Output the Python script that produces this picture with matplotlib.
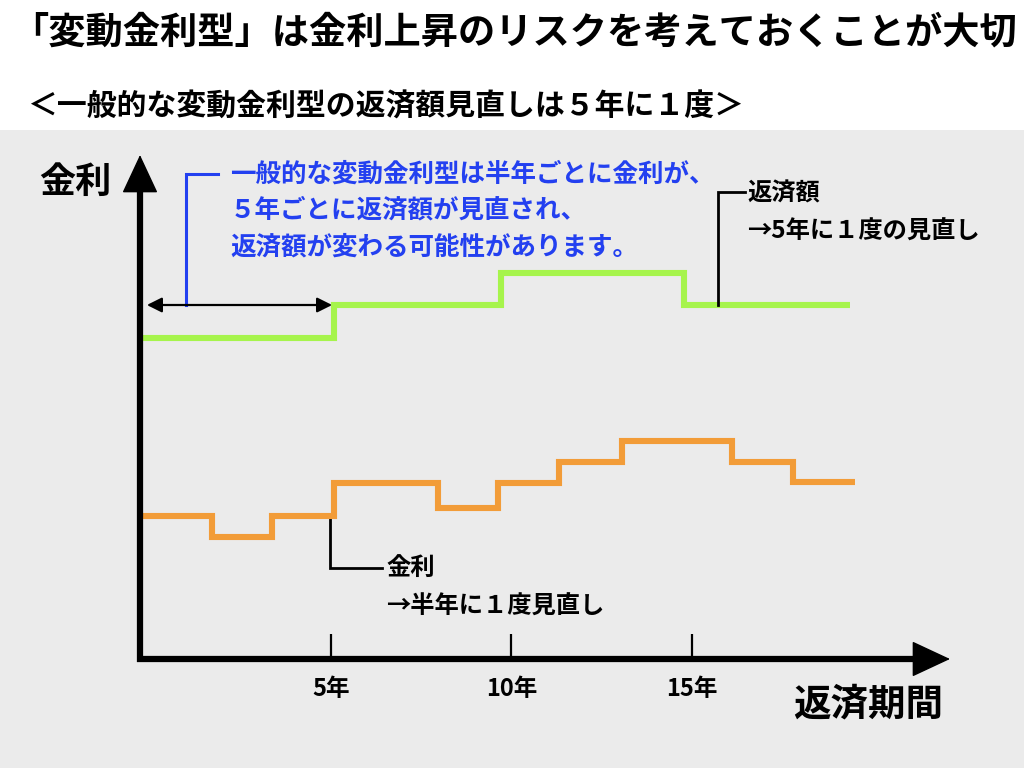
import matplotlib
matplotlib.use("Agg")
import matplotlib.pyplot as plt
from matplotlib.patches import Rectangle

plt.rcParams['font.family'] = ['Noto Sans CJK JP', 'DejaVu Sans']

# ---------------- data ----------------
# step breakpoints (years) and levels (arbitrary rate/payment level)
payment_x = [-0.21, 5.07, 9.70, 14.78, 19.38]
payment_y = [32.1, 35.4, 38.6, 35.4]

rate_x = [-0.21, 1.70, 3.36, 5.07, 7.96, 9.63, 11.32, 13.05, 16.10, 17.81, 19.52]
rate_y = [14.3, 12.2, 14.3, 17.6, 15.1, 17.6, 19.7, 21.8, 19.7, 17.7]

tick_years = [5, 10, 15]
tick_labels = ['5年', '10年', '15年']

title = '「変動金利型」は金利上昇のリスクを考えておくことが大切'
subtitle = '＜一般的な変動金利型の返済額見直しは５年に１度＞'
blue_lines = ['一般的な変動金利型は半年ごとに金利が、',
              '５年ごとに返済額が見直され、',
              '返済額が変わる可能性があります。']
payment_label = ['返済額', '→5年に１度の見直し']
rate_label = ['金利', '→半年に１度見直し']

GREEN = '#a6f44c'
ORANGE = '#f29c38'
BLUE = '#2340f0'
BG = '#ebebeb'

W, H = 1024, 768
fig = plt.figure(figsize=(W / 100, H / 100), dpi=100)
fig.patch.set_facecolor('white')
fig.patches.append(Rectangle((0, 0), 1, (H - 130) / H, transform=fig.transFigure,
                             facecolor=BG, edgecolor='none', zorder=-10))


def fx(x):
    return x / W


def fy(y):
    return 1 - y / H


# titles
fig.text(fx(514), fy(33), title, fontsize=26.8, fontweight='bold', ha='center', va='center')
fig.text(fx(28), fy(107), subtitle, fontsize=21.5, fontweight='bold', ha='left', va='center')

# axes
ax = fig.add_axes([fx(140), (H - 659) / H, 810 / W, 504 / H])
ax.set_facecolor('none')
ax.set_zorder(1)
xmin, xmax = -0.291, 22.147
ymin, ymax = 0, 50.4
ax.set_xlim(xmin, xmax)
ax.set_ylim(ymin, ymax)
for s in ax.spines.values():
    s.set_visible(False)
ax.set_yticks([])
ax.set_xticks(tick_years)
ax.set_xticklabels(tick_labels, fontsize=17, fontweight='bold')
ax.tick_params(axis='x', direction='in', length=18, width=1.6, pad=13, color='black')

# step lines
ax.step(payment_x, payment_y + [payment_y[-1]], where='post', color=GREEN, lw=4.4,
        solid_capstyle='butt', solid_joinstyle='miter', zorder=3)
ax.step(rate_x, rate_y + [rate_y[-1]], where='post', color=ORANGE, lw=4.4,
        solid_capstyle='butt', solid_joinstyle='miter', zorder=3)

# axis arrows
ax.plot([xmin, xmin], [-0.25, ymax - 2], color='black', lw=4.5, solid_capstyle='butt',
        clip_on=False, zorder=5)
ax.plot([xmin - 0.08, xmax - 0.6], [0, 0], color='black', lw=4.5, solid_capstyle='butt',
        clip_on=False, zorder=5)
ax.annotate('', xy=(xmin, ymax), xytext=(xmin, ymax - 3), annotation_clip=False,
            arrowprops=dict(arrowstyle='-|>,head_length=0.9,head_width=0.42', lw=1,
                            color='black', mutation_scale=28, shrinkA=0, shrinkB=0), zorder=5)
ax.annotate('', xy=(xmax, 0), xytext=(xmax - 1, 0), annotation_clip=False,
            arrowprops=dict(arrowstyle='-|>,head_length=0.9,head_width=0.42', lw=1,
                            color='black', mutation_scale=28, shrinkA=0, shrinkB=0), zorder=5)

# 5-year double arrow
ax.annotate('', xy=(payment_x[1] - 0.04, payment_y[1]), xytext=(-0.1, payment_y[1]),
            annotation_clip=False,
            arrowprops=dict(arrowstyle='<|-|>,head_length=0.9,head_width=0.45', lw=1.6,
                            color='black', mutation_scale=10, shrinkA=0, shrinkB=0), zorder=6)

# blue leader + text
ax.plot([0.98, 0.98, 1.87], [payment_y[1], 48.5, 48.5], color=BLUE, lw=2.2,
        solid_joinstyle='miter', clip_on=False, zorder=4)
for i, line in enumerate(blue_lines):
    fig.text(fx(230), fy(174 + 36.5 * i), line, fontsize=18.4, fontweight='bold',
             color=BLUE, ha='left', va='center')

# payment leader
ax.plot([15.71, 15.71, 16.47], [payment_y[3], 46.7, 46.7], color='black', lw=2,
        solid_joinstyle='miter', clip_on=False, zorder=4)
fig.text(fx(747), fy(194), payment_label[0], fontsize=17.5, fontweight='bold', ha='left', va='center')
fig.text(fx(747), fy(232), payment_label[1], fontsize=17.5, fontweight='bold', ha='left', va='center')

# rate leader
ax.plot([4.97, 4.97, 6.41], [rate_y[2], 9.1, 9.1], color='black', lw=2,
        solid_joinstyle='miter', clip_on=False, zorder=2)
fig.text(fx(386), fy(568), rate_label[0], fontsize=17.5, fontweight='bold', ha='left', va='center')
fig.text(fx(386), fy(607), rate_label[1], fontsize=17.5, fontweight='bold', ha='left', va='center')

# axis labels
fig.text(fx(75), fy(182), '金利', fontsize=26, fontweight='bold', ha='center', va='center')
fig.text(fx(868), fy(704), '返済期間', fontsize=27, fontweight='bold', ha='center', va='center')

fig.savefig('out.png', dpi=100)
